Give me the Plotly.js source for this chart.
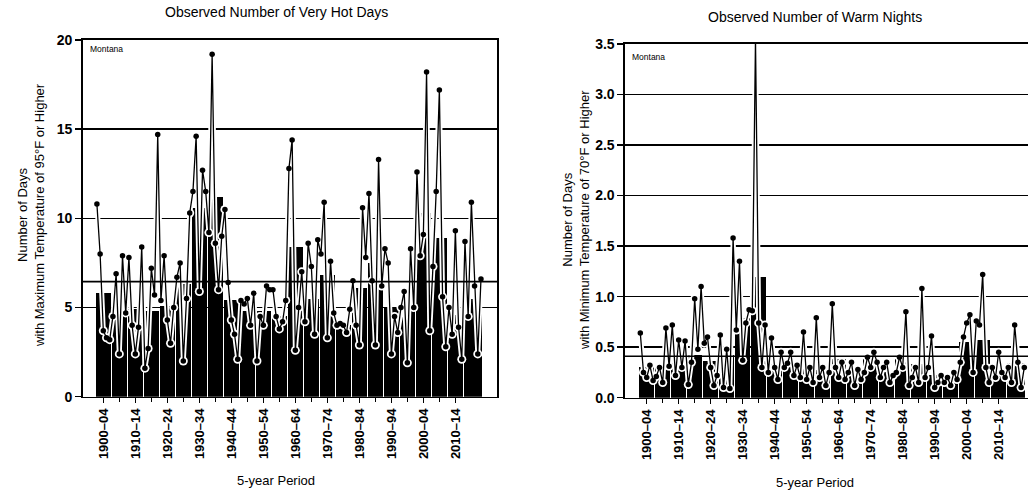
<!DOCTYPE html>
<html>
<head>
<meta charset="utf-8">
<script src="https://cdn.plot.ly/plotly-3.0.1.min.js"></script>
<style>html,body{margin:0;padding:0;background:#fff;}#chart{width:1028px;height:493px;}</style>
</head>
<body>
<div id="chart"></div>
<script>
// ---- Data ----
const firstYear = 1900;
const lastYear = 2020;

// 5-year periods
const periodStart = [1900,1905,1910,1915,1920,1925,1930,1935,1940,1945,1950,1955,1960,1965,1970,1975,1980,1985,1990,1995,2000,2005,2010,2015];
const periodEnd   = [1904,1909,1914,1919,1924,1929,1934,1939,1944,1949,1954,1959,1964,1969,1974,1979,1984,1989,1994,1999,2004,2009,2014,2020];

// tick labels (every other period)
const tickLabels = ["1900–04","1910–14","1920–24","1930–34","1940–44","1950–54","1960–64","1970–74","1980–84","1990–94","2000–04","2010–14"];
const tickPeriodStart = [1900,1910,1920,1930,1940,1950,1960,1970,1980,1990,2000,2010];
const minorPeriodStart = [1905,1915,1925,1935,1945,1955,1965,1975,1985,1995,2005];

// Very hot days (max temp >= 95F): 5-year period averages
const hotDaysPeriod = [5.8,4.9,4.9,4.8,5.1,6.3,10.6,11.2,5.4,4.8,4.8,4.5,8.4,5.5,6.8,4.0,6.1,7.5,5.0,4.9,10.3,8.9,4.6,5.5];
// Very hot days: annual values 1900-2020
const hotDaysAnnual = [
 10.8,8.0,3.7,3.3,3.2, 4.5,6.9,2.4,7.9,4.7,
 7.8,4.0,2.4,3.9,8.4, 1.6,2.7,7.2,5.7,14.7,
 5.4,7.9,4.3,3.0,5.0, 6.7,7.5,2.0,5.5,10.3,
 11.5,14.6,5.9,12.7,11.5, 9.2,19.2,8.6,6.0,9.0,
 10.5,6.4,4.3,3.5,2.1, 5.4,5.2,5.5,4.0,5.8,
 2.0,4.5,4.0,6.2,6.0, 6.0,4.5,3.8,4.2,5.4,
 12.8,14.4,2.6,5.0,7.0, 4.2,8.6,7.3,3.5,8.8,
 8.0,10.9,3.3,7.6,4.7, 4.0,4.1,4.0,3.6,4.9,
 6.5,4.0,2.9,10.6,7.8, 11.4,6.5,2.9,13.3,6.2,
 8.3,7.5,2.4,4.5,3.6, 5.0,5.9,1.9,8.3,5.0,
 12.6,7.9,9.1,18.2,3.7, 7.3,11.5,17.2,5.6,2.8,
 5.0,3.5,9.3,3.9,2.1, 8.7,4.5,10.9,6.2,2.4,
 6.6
];
const hotDaysAverage = 6.45;

// Warm nights (min temp >= 70F): 5-year period averages
const warmNightsPeriod = [0.30,0.30,0.34,0.42,0.36,0.42,0.79,1.19,0.33,0.33,0.30,0.27,0.38,0.24,0.38,0.25,0.38,0.33,0.22,0.18,0.55,0.57,0.28,0.34];
// Warm nights: annual values 1900-2020
const warmNightsAnnual = [
 0.64,0.25,0.20,0.32,0.17, 0.21,0.30,0.15,0.69,0.31,
 0.72,0.22,0.57,0.30,0.56, 0.13,0.35,0.98,0.48,1.10,
 0.54,0.60,0.30,0.12,0.22, 0.62,0.10,0.48,0.09,1.58,
 0.67,1.35,0.37,0.74,0.87, 0.86,3.55,0.74,0.30,0.72,
 0.25,0.59,0.30,0.18,0.45, 0.30,0.34,0.45,0.22,0.32,
 0.20,0.65,0.18,0.30,0.15, 0.79,0.20,0.30,0.12,0.25,
 0.93,0.30,0.20,0.35,0.18, 0.25,0.35,0.12,0.28,0.18,
 0.25,0.40,0.30,0.45,0.35, 0.20,0.30,0.35,0.15,0.22,
 0.25,0.40,0.30,0.85,0.12, 0.20,0.30,0.15,1.08,0.20,
 0.30,0.61,0.10,0.15,0.22, 0.15,0.20,0.12,0.25,0.18,
 0.35,0.60,0.74,0.82,0.25, 0.76,0.72,1.22,0.30,0.15,
 0.30,0.20,0.45,0.25,0.20, 0.30,0.15,0.72,0.35,0.10,
 0.30
];
const warmNightsAverage = 0.41;

// ---- Derived positions ----
const years = [];
for (let y = firstYear; y <= lastYear; y++) years.push(y + 0.5);
const barX = periodStart.map((s, i) => (s + periodEnd[i] + 1) / 2);
const barW = periodStart.map((s, i) => (periodEnd[i] + 1 - s) - 0.3);
const tickX = tickPeriodStart.map(s => s + 2.5);
const minorX = minorPeriodStart.map(s => s + 2.5);

function panelTraces(periodVals, annualVals, xa, ya) {
  return [
    {type:'bar', x:barX, y:periodVals, width:barW, xaxis:xa, yaxis:ya,
     marker:{color:'#000000', line:{width:0}}, hoverinfo:'skip'},
    {type:'scatter', mode:'lines+markers', x:years, y:annualVals, xaxis:xa, yaxis:ya,
     line:{color:'#ffffff', width:5}, marker:{color:'#ffffff', size:9}, hoverinfo:'skip'},
    {type:'scatter', mode:'lines+markers', x:years, y:annualVals, xaxis:xa, yaxis:ya,
     line:{color:'#000000', width:1.3}, marker:{color:'#000000', size:5.5}, hoverinfo:'skip'}
  ];
}

const data = [
  ...panelTraces(hotDaysPeriod, hotDaysAnnual, 'x', 'y'),
  ...panelTraces(warmNightsPeriod, warmNightsAnnual, 'x2', 'y2')
];

const W = 1028, H = 493;
const fontFam = 'Liberation Sans, Arial, Helvetica, sans-serif';

const xCommon = {
  tickmode:'array', tickvals:tickX, ticktext:tickLabels, tickangle:-90,
  ticks:'outside', ticklen:5, tickwidth:1.4, tickcolor:'#000',
  showgrid:false, zeroline:false, showline:true, linecolor:'#000', linewidth:1.6,
  tickfont:{size:13, color:'#000', family:fontFam, weight:'bold'},
  minor:{tickmode:'array', tickvals:minorX, ticks:'outside', ticklen:4, tickcolor:'#000', tickwidth:1.2, showgrid:false},
  fixedrange:true
};
const yCommon = {
  ticks:'outside', ticklen:6, tickwidth:1.4, tickcolor:'#000',
  showgrid:true, gridcolor:'#000', gridwidth:1.5, zeroline:false,
  showline:true, linecolor:'#000', linewidth:1.6,
  tickfont:{size:14, color:'#000', family:fontFam, weight:'bold'}, fixedrange:true
};

const layout = {
  width:W, height:H,
  margin:{l:0, r:0, t:0, b:0},
  paper_bgcolor:'#fff', plot_bgcolor:'#fff',
  showlegend:false, bargap:0,
  font:{family:fontFam, color:'#000'},
  xaxis:Object.assign({}, xCommon, {domain:[82.7/W, 497.3/W], range:[1896.06, 2025.6], anchor:'y', mirror:true}),
  yaxis:Object.assign({}, yCommon, {domain:[(H-396.7)/H, (H-40)/H], range:[0,20], tickmode:'array', tickvals:[0,5,10,15,20], ticktext:['0','5','10','15','20'], anchor:'x', mirror:true}),
  xaxis2:Object.assign({}, xCommon, {domain:[625/W, 1], range:[1895.72, 2021.66], anchor:'y2', mirror:true}),
  yaxis2:Object.assign({}, yCommon, {domain:[(H-397.7)/H, (H-44)/H], range:[0,3.5], tickmode:'array', tickvals:[0,0.5,1,1.5,2,2.5,3,3.5], ticktext:['0.0','0.5','1.0','1.5','2.0','2.5','3.0','3.5'], anchor:'x2', mirror:false}),
  shapes:[
    {type:'line', xref:'x domain', yref:'y', x0:0, x1:1, y0:hotDaysAverage, y1:hotDaysAverage, line:{color:'#000', width:1.6}, layer:'above'},
    {type:'line', xref:'x2 domain', yref:'y2', x0:0, x1:1, y0:warmNightsAverage, y1:warmNightsAverage, line:{color:'#000', width:1.6}, layer:'above'}
  ],
  annotations:[
    {text:'Observed Number of Very Hot Days', xref:'paper', yref:'paper', x:276/W, y:1-12/H, xanchor:'center', yanchor:'middle', showarrow:false, font:{size:14, color:'#000'}},
    {text:'Observed Number of Warm Nights', xref:'paper', yref:'paper', x:815/W, y:1-17/H, xanchor:'center', yanchor:'middle', showarrow:false, font:{size:14, color:'#000'}},
    {text:'Number of Days<br>with Maximum Temperature of 95°F or Higher', xref:'paper', yref:'paper', x:31/W, y:1-215/H, xanchor:'center', yanchor:'middle', showarrow:false, textangle:-90, font:{size:13, color:'#000'}},
    {text:'Number of Days<br>with Minimum Temperature of 70°F or Higher', xref:'paper', yref:'paper', x:576/W, y:1-220/H, xanchor:'center', yanchor:'middle', showarrow:false, textangle:-90, font:{size:13, color:'#000'}},
    {text:'5-year Period', xref:'paper', yref:'paper', x:276/W, y:1-480/H, xanchor:'center', yanchor:'middle', showarrow:false, font:{size:13, color:'#000'}},
    {text:'5-year Period', xref:'paper', yref:'paper', x:815/W, y:1-482/H, xanchor:'center', yanchor:'middle', showarrow:false, font:{size:13, color:'#000'}},
    {text:'Montana', xref:'paper', yref:'paper', x:88/W, y:1-49/H, xanchor:'left', yanchor:'middle', showarrow:false, font:{size:8.5, color:'#000'}},
    {text:'Montana', xref:'paper', yref:'paper', x:630/W, y:1-57/H, xanchor:'left', yanchor:'middle', showarrow:false, font:{size:8.5, color:'#000'}}
  ]
};

Plotly.newPlot('chart', data, layout, {staticPlot:true, displayModeBar:false});
</script>
</body>
</html>
